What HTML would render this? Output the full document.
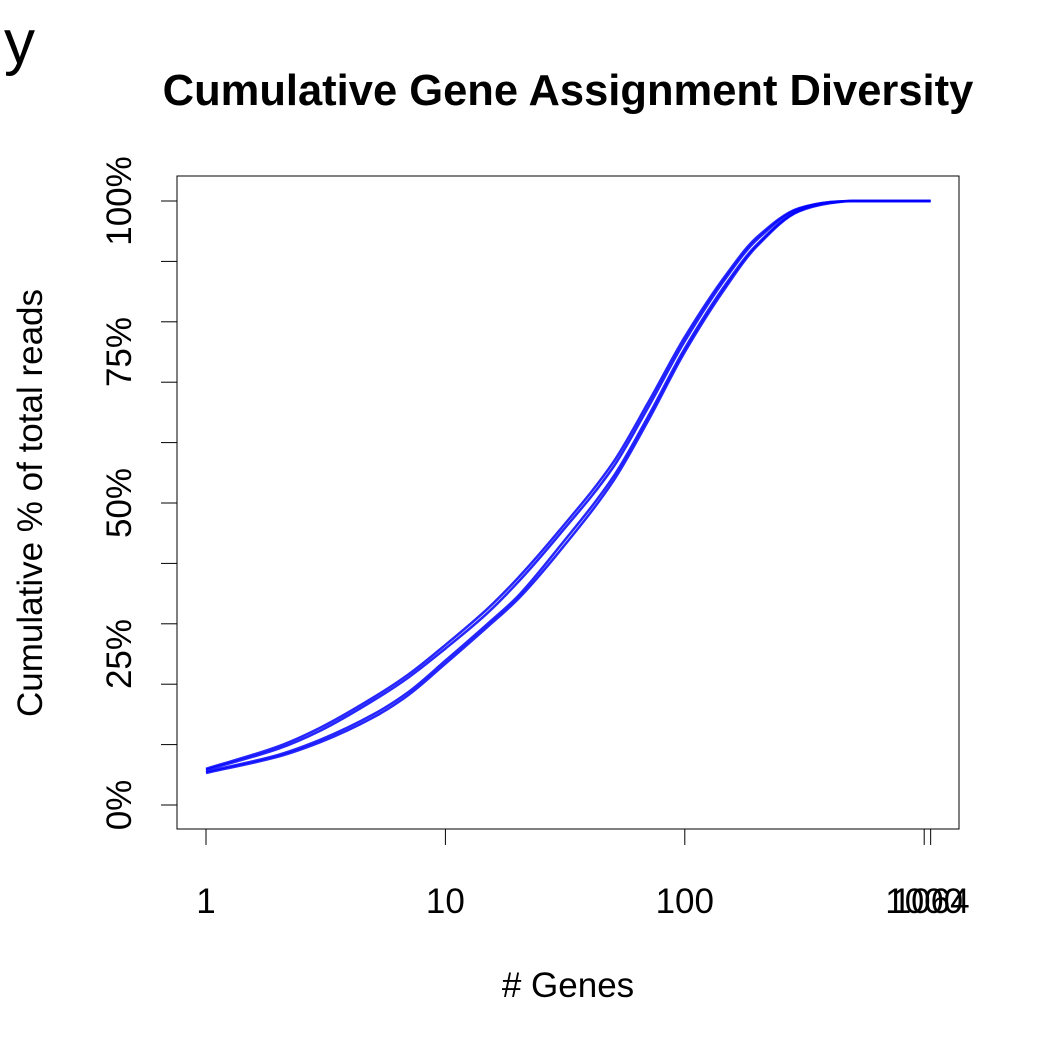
<!DOCTYPE html>
<html><head><meta charset="utf-8"><style>
body{margin:0;background:#fff;}
svg text{font-family:"Liberation Sans",sans-serif;}
</style></head><body>
<svg id="chart" width="1050" height="1050" xmlns="http://www.w3.org/2000/svg">
<text x="4" y="63" font-size="62">y</text>
<text x="568" y="105" font-size="43.5" font-weight="bold" text-anchor="middle">Cumulative Gene Assignment Diversity</text>
<rect x="177" y="176" width="782" height="653" fill="none" stroke="#000" stroke-width="1"/>
<g id="xaxis"></g>
<g id="yaxis"></g>
<g id="series"></g>
<text x="568" y="997" font-size="35" text-anchor="middle"># Genes</text>
<text transform="translate(42,503) rotate(-90)" font-size="35" text-anchor="middle">Cumulative % of total reads</text>
</svg>
<script>
const genes = [1,2,3,5,7,10,15,20,30,50,70,100,150,200,300,400,500,1064];
const seriesA = [6,9.7,12.8,17.8,21.6,26.5,32.5,37.5,45.5,56.6,66.5,77.5,88,94,98.8,99.8,100,100];
const seriesB = [5.8,9.3,12.3,17.3,21.1,25.9,31.8,36.8,44.8,55.8,65.7,76.8,87.5,93.6,98.7,99.8,100,100];
const seriesC = [5.5,8.3,10.8,15,18.7,23.9,30,34.5,42.8,54.2,64.2,75.6,86.5,92.8,98.4,99.7,100,100];
const seriesD = [5.3,8,10.4,14.5,18.2,23.4,29.5,34,42,53.5,63.5,75,86,92.5,98.3,99.6,100,100];
const xTicks = [1,10,100,1000,1064];
const xTickLabels = ["1","10","100","1000","1064"];
const yTicks = [0,10,20,30,40,50,60,70,80,90,100];
const yLabelVals = [0,25,50,75,100];
const yLabels = ["0%","25%","50%","75%","100%"];
const NS="http://www.w3.org/2000/svg";
const X = v => 206 + Math.log10(v)*239.4;
const Y = p => 805 - p*6.04;
function mk(tag, attrs, parent){const e=document.createElementNS(NS,tag);for(const k in attrs)e.setAttribute(k,attrs[k]);parent.appendChild(e);return e;}
function smoothPath(xs, ys){
  const n=xs.length, d=[], m=[];
  for(let i=0;i<n-1;i++) d.push((ys[i+1]-ys[i])/(xs[i+1]-xs[i]));
  m[0]=d[0]; m[n-1]=d[n-2];
  for(let i=1;i<n-1;i++) m[i]=(d[i-1]*d[i]<=0)?0:(2/(1/d[i-1]+1/d[i]));
  let p='M'+xs[0].toFixed(1)+','+ys[0].toFixed(1);
  for(let i=0;i<n-1;i++){
    const h=xs[i+1]-xs[i];
    p+=' C'+(xs[i]+h/3).toFixed(1)+','+(ys[i]+m[i]*h/3).toFixed(1)+' '+(xs[i+1]-h/3).toFixed(1)+','+(ys[i+1]-m[i+1]*h/3).toFixed(1)+' '+xs[i+1].toFixed(1)+','+ys[i+1].toFixed(1);
  }
  return p;
}
const xa=document.getElementById('xaxis'), ya=document.getElementById('yaxis'), sg=document.getElementById('series');
mk('line',{x1:X(1),x2:X(1064),y1:829,y2:829,stroke:'#000'},xa);
xTicks.forEach((t,i)=>{
  const l=mk('line',{x1:X(t),x2:X(t),y1:829,y2:845,stroke:'#000'},xa);
  
  
  const tx=mk('text',{x:X(t),y:913,'font-size':35,'text-anchor':'middle'},xa);
  tx.textContent=xTickLabels[i];
  
  
});
yTicks.forEach(t=>{
  const l=mk('line',{x1:161,x2:177,y1:Y(t),y2:Y(t),stroke:'#000'},ya);
  
  
});
yLabelVals.forEach((v,i)=>{
  const tx=mk('text',{transform:`translate(131,${Y(v)}) rotate(-90)`,'font-size':35,'text-anchor':'middle'},ya);
  tx.textContent=yLabels[i];
  
  
});
[seriesA,seriesB,seriesC,seriesD].forEach((s,i)=>{
  const d=smoothPath(genes.map(X), s.map(Y));
  const path=mk('path',{d:d,fill:'none',stroke:'#0000ff','stroke-width':2.5,'stroke-opacity':0.85,'stroke-linejoin':'round'},sg);
  
  
});
</script>
</body></html>
